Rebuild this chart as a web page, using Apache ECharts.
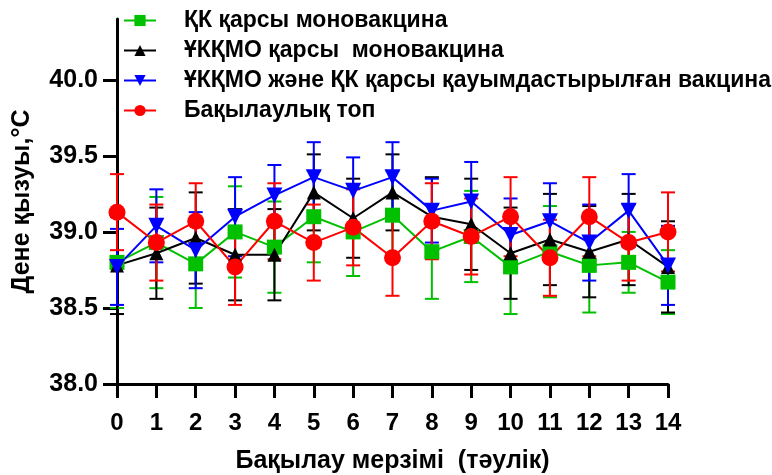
<!DOCTYPE html>
<html>
<head>
<meta charset="utf-8">
<script src="https://cdn.jsdelivr.net/npm/echarts@6/dist/echarts.min.js"></script>
<style>html,body{margin:0;padding:0;background:#fff}#c{width:772px;height:475px}</style>
</head>
<body>
<div id="c"></div>
<script>
const days = [0,1,2,3,4,5,6,7,8,9,10,11,12,13,14];
const yTicks = [38.0, 38.5, 39.0, 39.5, 40.0];
const names = ['ҚК қарсы моновакцина', 'ҰКҚМО қарсы  моновакцина', 'ҰКҚМО және ҚК қарсы қауымдастырылған вакцина', 'Бақылаулық топ'];
const greenMean = [38.80, 38.93, 38.79, 39.00, 38.90, 39.10, 39.00, 39.11, 38.87, 38.97, 38.77, 38.87, 38.78, 38.80, 38.67];
const greenSd   = [0.30, 0.30, 0.29, 0.30, 0.30, 0.30, 0.29, 0.29, 0.31, 0.30, 0.31, 0.30, 0.31, 0.20, 0.21];
const blackMean = [38.78, 38.86, 38.96, 38.85, 38.85, 39.26, 39.09, 39.26, 39.10, 39.05, 38.86, 38.95, 38.87, 38.95, 38.77];
const blackSd   = [0.32, 0.30, 0.30, 0.30, 0.30, 0.25, 0.26, 0.25, 0.26, 0.30, 0.30, 0.30, 0.30, 0.30, 0.30];
const blueMean  = [38.77, 39.04, 38.88, 39.10, 39.24, 39.36, 39.27, 39.36, 39.14, 39.20, 38.98, 39.07, 38.93, 39.14, 38.78];
const blueSd    = [0.25, 0.24, 0.25, 0.26, 0.20, 0.23, 0.22, 0.23, 0.21, 0.26, 0.24, 0.25, 0.25, 0.24, 0.26];
const redMean   = [39.13, 38.93, 39.07, 38.77, 39.07, 38.93, 39.03, 38.83, 39.07, 38.97, 39.10, 38.83, 39.10, 38.93, 39.00];
const redSd     = [0.25, 0.25, 0.25, 0.25, 0.25, 0.25, 0.25, 0.25, 0.25, 0.25, 0.26, 0.25, 0.26, 0.25, 0.26];

const FONT = '"Liberation Sans", Arial, sans-serif';
const groups = [
  {name: names[0], mean: greenMean, sd: greenSd, color: '#00C000', symbol: 'rect', size: 15, rot: 0},
  {name: names[1], mean: blackMean, sd: blackSd, color: '#000000', symbol: 'triangle', size: 14, rot: 0},
  {name: names[2], mean: blueMean, sd: blueSd, color: '#0000FF', symbol: 'triangle', size: 16, rot: 180},
  {name: names[3], mean: redMean, sd: redSd, color: '#FF0000', symbol: 'circle', size: 17, rot: 0}
];

function errRender(color) {
  return function (params, api) {
    const x = api.value(0);
    const lo = api.coord([x, api.value(1)]);
    const hi = api.coord([x, api.value(2)]);
    const w = 7;
    const st = {stroke: color, lineWidth: 2};
    return {type: 'group', children: [
      {type: 'line', shape: {x1: lo[0], y1: lo[1], x2: hi[0], y2: hi[1]}, style: st},
      {type: 'line', shape: {x1: lo[0]-w, y1: lo[1], x2: lo[0]+w, y2: lo[1]}, style: st},
      {type: 'line', shape: {x1: hi[0]-w, y1: hi[1], x2: hi[0]+w, y2: hi[1]}, style: st}
    ]};
  };
}

const series = [];
groups.forEach((g, i) => {
  series.push({
    type: 'custom', name: 'err' + i, z: 2, silent: true,
    renderItem: errRender(g.color),
    data: days.map((d, k) => [d, g.mean[k] - g.sd[k], g.mean[k] + g.sd[k]])
  });
  series.push({
    type: 'line', name: g.name, z: 2,
    data: days.map((d, k) => [d, g.mean[k]]),
    symbol: g.symbol, symbolSize: g.size, symbolRotate: g.rot,
    lineStyle: {color: g.color, width: 2},
    itemStyle: {color: g.color},
    animation: false
  });
});

const chart = echarts.init(document.getElementById('c'));
chart.setOption({
  animation: false,
  backgroundColor: '#fff',
  grid: {left: 117, right: 104, top: 19, bottom: 91, containLabel: false, outerBoundsMode: 'none'},
  legend: {
    data: names, orient: 'vertical', left: 118, top: 4,
    itemWidth: 32, itemHeight: 14, itemGap: 7,
    textStyle: {fontFamily: FONT, fontWeight: 'bold', fontSize: 23, color: '#000', lineHeight: 22, padding: [0,0,0,23]}
  },
  xAxis: {
    type: 'value', min: 0, max: 14, interval: 1,
    name: 'Бақылау мерзімі  (тәулік)', nameLocation: 'middle', nameGap: 65,
    nameTextStyle: {fontFamily: FONT, fontWeight: 'bold', fontSize: 25, color: '#000'},
    axisLine: {show: true, lineStyle: {color: '#000', width: 3}},
    axisTick: {show: true, length: 14, lineStyle: {color: '#000', width: 3}},
    axisLabel: {fontFamily: FONT, fontWeight: 'bold', fontSize: 24, color: '#000', margin: 27},
    splitLine: {show: false}
  },
  yAxis: {
    type: 'value', min: 38, max: 40.4, interval: 0.5,
    name: 'Дене қызуы,°C', nameLocation: 'middle', nameGap: 82,
    nameTextStyle: {fontFamily: FONT, fontWeight: 'bold', fontSize: 25, color: '#000'},
    axisLine: {show: true, lineStyle: {color: '#000', width: 3}},
    axisTick: {show: true, length: 14, customValues: yTicks, lineStyle: {color: '#000', width: 3}},
    axisLabel: {customValues: yTicks, fontFamily: FONT, fontWeight: 'bold', fontSize: 25, color: '#000', margin: 19,
      formatter: v => Number(v).toFixed(1)},
    splitLine: {show: false}
  },
  series: series
});
</script>
</body>
</html>
